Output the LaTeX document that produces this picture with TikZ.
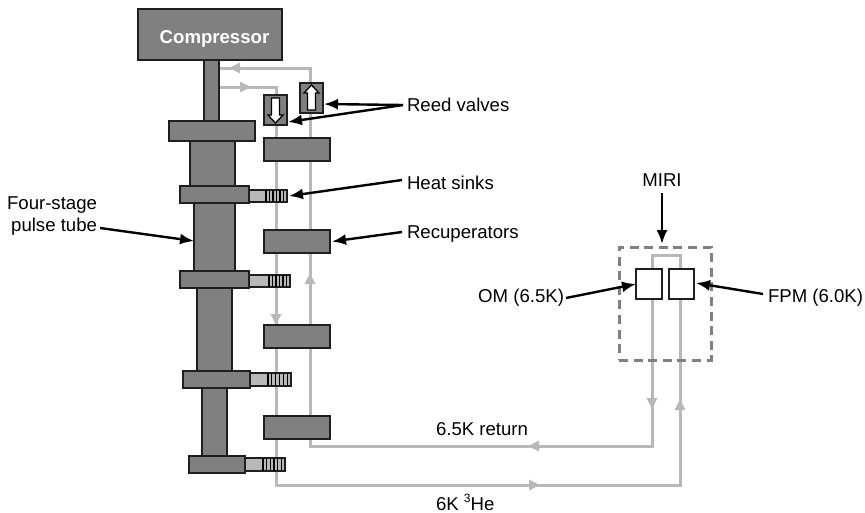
\documentclass[tikz,border=0pt]{standalone}
\usepackage{fontspec}
\setmainfont{Liberation Sans}
\usetikzlibrary{arrows.meta,calc}
\definecolor{partgray}{gray}{0.5}
\definecolor{pipegray}{gray}{0.72}
\definecolor{edgegray}{gray}{0.12}
\definecolor{dashgray}{gray}{0.5}
\newcommand{\lbl}{\fontsize{18.6}{22}\selectfont}
\tikzset{
  x=1pt,y=-1pt,
  part/.style={draw=edgegray,line width=1.5pt,fill=partgray,inner sep=0,outer sep=0,anchor=north west},
  whitebox/.style={draw=edgegray,line width=1.5pt,fill=white,inner sep=0,outer sep=0,anchor=north west},
  dashbox/.style={draw=dashgray,line width=3pt,dash pattern=on 9pt off 5.6pt,inner sep=0,outer sep=0,anchor=north west},
  label/.style={inner sep=0,outer sep=0,text=black,font=\lbl},
  pipe/.style={draw=pipegray,line width=3pt},
  pipetip/.style={draw=pipegray,line width=3pt,-{Triangle[length=11pt,width=10pt,fill=pipegray]}},
  callout/.style={draw=black,line width=2.4pt,-{Latex[length=14pt,width=11pt]}},
  valvearrow/.style={draw=black,line width=1.3pt,fill=white,line join=miter},
  stripe/.style={draw=black,line width=1.3pt},
}
\newcommand{\rbox}[6]{\node[#1,minimum width=#4-#2,minimum height=#5-#3] (#6) at (#2,#3) {};}
\newcommand{\sink}[6]{% name, x0, xsplit, x1, y0, y1
  \node[part,fill=pipegray,draw=edgegray,minimum width=#4-#2,minimum height=#6-#5] (#1) at (#2,#5) {};
  \pgfmathsetmacro{\dx}{(#4-#3)/6}
  \foreach \i in {0,...,5}{\draw[stripe] ({#3+\i*\dx},#5) -- ({#3+\i*\dx},#6);}
}
\begin{document}
\begin{tikzpicture}
\useasboundingbox (0,0) rectangle (865,512);
% named pipe points
\coordinate (p1) at (219,68);
\coordinate (p2) at (310,68);
\coordinate (p3) at (310,446);
\coordinate (p4) at (652,446);
\coordinate (p5) at (652,255);
\coordinate (p6) at (680,255);
\coordinate (p7) at (680,485);
\coordinate (p8) at (276,485);
\coordinate (p9) at (276,87);
\coordinate (p10) at (219,87);
\draw[pipe,line join=miter] (p1) -- (p2) -- (p3) -- (p4) -- (p5) -- (p6) -- (p7) -- (p8) -- (p9) -- (p10);
% flow arrows
\draw[pipetip] (244,68) -- (229,68);
\draw[pipetip] (236,87) -- (251,87);
\draw[pipetip] (310,290) -- (310,273);
\draw[pipetip] (276,308) -- (276,325);
\draw[pipetip] (545,446) -- (528,446);
\draw[pipetip] (525,485) -- (540,485);
\draw[pipetip] (652,390) -- (652,409);
\draw[pipetip] (680,418) -- (680,399);
% pulse tube
\rbox{part}{138}{9}{282}{60}{comp}
\rbox{part}{204}{60}{219}{121}{shaft}
\rbox{part}{190}{141}{235}{186}{tube1}
\rbox{part}{194}{203}{235}{271}{tube2}
\rbox{part}{197}{288}{232}{371}{tube3}
\rbox{part}{202}{388}{227}{456}{tube4}
\rbox{part}{169}{121}{255}{141}{fl1}
\rbox{part}{180}{186}{249}{203}{fl2}
\rbox{part}{180}{271}{249}{288}{fl3}
\rbox{part}{183}{371}{250}{388}{fl4}
\rbox{part}{189}{456}{245}{473}{fl5}
% heat sinks
\sink{hs1}{249}{266}{287}{190}{202}
\sink{hs2}{249}{269}{290}{275}{287}
\sink{hs3}{250}{268}{291}{373}{386}
\sink{hs4}{245}{263}{285}{458}{471}
% recuperators
\rbox{part}{264}{138}{330}{161}{rc1}
\rbox{part}{264}{230}{330}{253}{rc2}
\rbox{part}{264}{325}{330}{348}{rc3}
\rbox{part}{264}{416}{330}{439}{rc4}
% reed valves
\rbox{part}{300}{83}{323}{113}{vup}
\rbox{part}{264}{95}{287}{125}{vdn}
\draw[valvearrow] (307.5,110) -- (315.5,110) -- (315.5,93) -- (319,93) -- (311.5,85) -- (304,93) -- (307.5,93) -- cycle;
\draw[valvearrow] (271.5,98) -- (279.5,98) -- (279.5,115) -- (283,115) -- (275.5,123) -- (268,115) -- (271.5,115) -- cycle;
% MIRI
\rbox{dashbox}{619}{247}{711}{360}{miri}
\rbox{whitebox}{636}{269}{662}{299}{om}
\rbox{whitebox}{669}{269}{694}{299}{fpm}
% labels
\node[label,text=white,font=\lbl\bfseries] (tcomp) at (214.5,38.5) {Compressor};
\node[label,anchor=west] (treed) at (407,105) {Reed valves};
\node[label,anchor=west] (tsink) at (407,183) {Heat sinks};
\node[label,anchor=west] (trec) at (407,234) {Recuperators};
\node[label,align=right,anchor=east] (tfour) at (97,216.5) {Four-stage\\pulse tube};
\node[label] (tmiri) at (662,180) {MIRI};
\node[label,anchor=east] (tom) at (564,298) {OM (6.5K)};
\node[label,anchor=west] (tfpm) at (768,298) {FPM (6.0K)};
\node[label,anchor=west] (tret) at (436,429.5) {6.5K return};
\node[label,anchor=base west] (the) at (436,510) {6K \raisebox{0.42em}{\fontsize{12}{13}\selectfont 3}He};
% callouts
\draw[callout] ([xshift=-4pt]treed.west) -- ([xshift=1pt,yshift=-6pt]vup.east);
\draw[callout] ([xshift=-4pt]treed.west) -- ([xshift=1pt,yshift=-12pt]vdn.east);
\draw[callout] ([xshift=-5pt,yshift=3pt]tsink.west) -- ([xshift=2pt]hs1.east);
\draw[callout] ([xshift=-5pt,yshift=2pt]trec.west) -- ([xshift=2pt]rc2.east);
\draw[callout] ([xshift=3pt,yshift=-11.5pt]tfour.east) -- ([yshift=-4pt]tube2.west);
\draw[callout] ([yshift=-7pt]tmiri.south) -- ([xshift=-3pt,yshift=3pt]miri.north);
\draw[callout] ([xshift=2pt]tom.east) -- (om.west);
\draw[callout] ([xshift=-5pt,yshift=4pt]tfpm.west) -- ([xshift=2pt,yshift=1pt]fpm.east);
\end{tikzpicture}
\end{document}
